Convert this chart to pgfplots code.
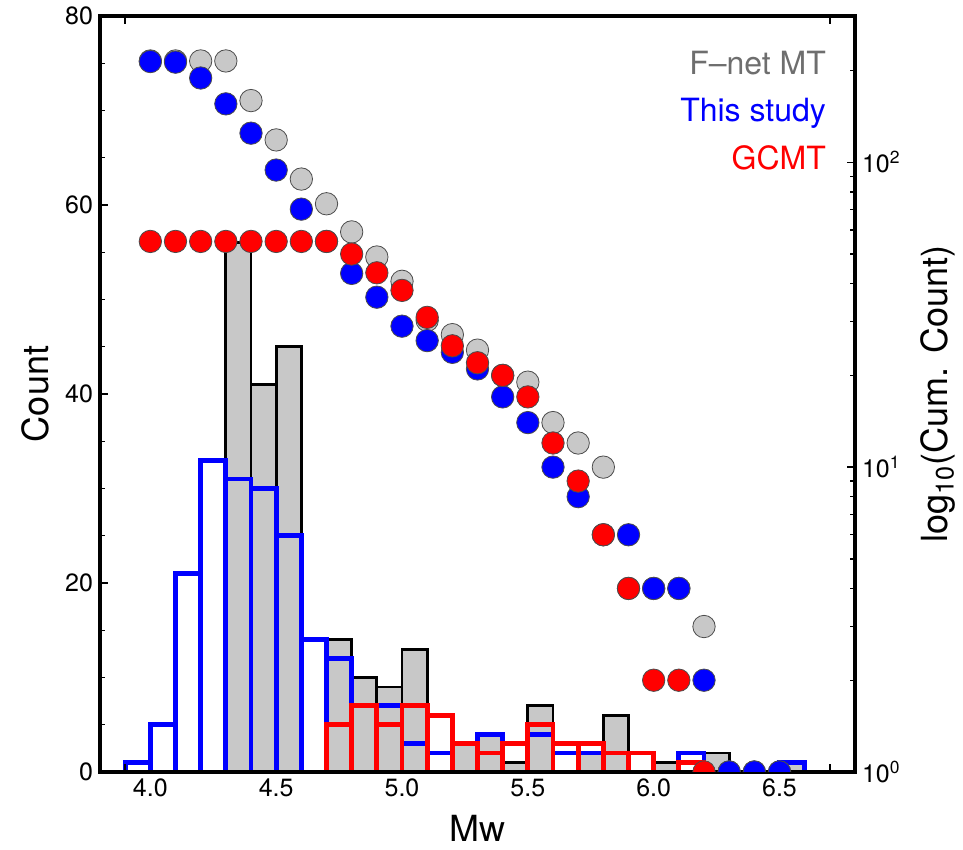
\documentclass[border=0pt]{standalone}
\usepackage{pgfplots}
\usepackage{pgfplotstable}
\pgfplotsset{compat=1.18}
\usepackage{fontspec}
\setmainfont{TeX Gyre Heros}

\definecolor{bargray}{RGB}{200,200,200}
\definecolor{labgray}{RGB}{110,110,110}

% histograms: bin centre, count
\pgfplotstableread{
mw n
4.35 56
4.45 41
4.55 45
4.75 14
4.85 10
4.95 9
5.05 13
5.25 3
5.35 4
5.45 1
5.55 7
5.75 2
5.85 6
6.05 1
6.25 2
6.55 1
}\grayhist
\pgfplotstableread{
mw n
3.95 1
4.05 5
4.15 21
4.25 33
4.35 31
4.45 30
4.55 25
4.65 14
4.75 12
4.85 7
4.95 7
5.05 3
5.15 2
5.25 3
5.35 4
5.45 3
5.55 4
5.65 2
5.75 2
5.85 2
5.95 2
6.15 2
6.55 1
}\bluehist
\pgfplotstableread{
mw n
4.75 5
4.85 7
4.95 5
5.05 7
5.15 6
5.25 3
5.35 2
5.45 3
5.55 5
5.65 3
5.75 3
5.85 2
5.95 2
6.15 1
}\redhist

% cumulative counts
\pgfplotstableread{
mw n
4.0 215
4.1 215
4.2 215
4.3 215
4.4 159.4
4.5 118.4
4.6 88.1
4.7 73.1
4.8 59.1
4.9 48.9
5.0 40.7
5.1 30.3
5.2 27.2
5.3 24.2
5.4 20
5.5 19
5.6 14
5.7 12
5.8 10
5.9 4
6.0 4
6.1 4
6.2 3
6.3 1
6.4 1
6.5 1
}\graycum
\pgfplotstableread{
mw n
4.0 214
4.1 213
4.2 189
4.3 155.5
4.4 124.6
4.5 94.3
4.6 70.2
4.7 55
4.8 43.2
4.9 36.1
5.0 29
5.1 26
5.2 23.8
5.3 21
5.4 17
5.5 14
5.6 10
5.7 8
5.8 6
5.9 6
6.0 4
6.1 4
6.2 2
6.3 1
6.4 1
6.5 1
}\bluecum
\pgfplotstableread{
mw n
4.0 55
4.1 55
4.2 55
4.3 55
4.4 55
4.5 55
4.6 55
4.7 55
4.8 50
4.9 43.4
5.0 38
5.1 31
5.2 25
5.3 22
5.4 20
5.5 17
5.6 12
5.7 9
5.8 6
5.9 4
6.0 2
6.1 2
6.2 1
}\redcum

\begin{document}
\begin{tikzpicture}
\pgfplotsset{
  every axis/.append style={
    scale only axis, width=377.5pt, height=378pt,
    xmin=3.8, xmax=6.8,
    tick align=inside,
    major tick length=4pt, minor tick length=2.5pt,
    axis line style={line width=1.8pt},
    every tick/.style={black, line width=0.7pt},
    tick label style={font=\fontsize{12.5}{14}\selectfont},
    /pgf/number format/assume math mode=true,
    axis on top,
  },
}
\begin{axis}[
  name=main,
  ymin=0, ymax=80,
  ytick={0,20,40,60,80}, minor y tick num=3, ytick pos=left,
  xtick={3.9,6.7}, xticklabels={},
  extra x ticks={4.0,4.5,5.0,5.5,6.0,6.5},
  extra x tick labels={4.0,4.5,5.0,5.5,6.0,6.5},
  extra x tick style={major tick length=0pt},
  xlabel={Mw}, ylabel={Count},
  every axis x label/.style={at={(axis description cs:0.5,-0.074)}, anchor=center, font=\fontsize{18}{21}\selectfont},
  every axis y label/.style={at={(axis description cs:-0.086,0.5)}, rotate=90, anchor=center, font=\fontsize{18}{21}\selectfont},
]
\addplot[ybar, bar shift=0pt, bar width=0.1, fill=bargray, draw=black, line width=1.4pt] table {\grayhist};
\addplot[ybar, bar shift=0pt, bar width=0.1, fill=none, draw=blue, line width=2.4pt] table {\bluehist};
\addplot[ybar, bar shift=0pt, bar width=0.1, fill=none, draw=red, line width=2.4pt] table {\redhist};
\end{axis}

\begin{axis}[
  ymode=log, ymin=1, ymax=302,
  axis y line*=right, axis x line=none,
  ytick={1,10,100},
  yticklabels={10\textsuperscript{0},10\textsuperscript{1},10\textsuperscript{2}},
  minor ytick={2,3,4,5,6,7,8,9,20,30,40,50,60,70,80,90,200,300},
  clip marker paths=true,
  ylabel={log\textsubscript{10}(Cum. Count)},
  every axis y label/.style={at={(axis description cs:1.110,0.5)}, rotate=90, anchor=center, font=\fontsize{18}{21}\selectfont},
]
\addplot[only marks, mark=*, mark size=5.6pt, mark options={fill=bargray, draw=black!70, line width=0.4pt}] table {\graycum};
\addplot[only marks, mark=*, mark size=5.6pt, mark options={fill=blue, draw=black!70, line width=0.4pt}] table {\bluecum};
\addplot[only marks, mark=*, mark size=5.6pt, mark options={fill=red, draw=black!70, line width=0.4pt}] table {\redcum};
\node[anchor=base east, inner sep=0pt, text=labgray, font=\fontsize{16}{19}\selectfont] at (rel axis cs:0.962,0.922) {F--net MT};
\node[anchor=base east, inner sep=0pt, text=blue, font=\fontsize{16}{19}\selectfont] at (rel axis cs:0.962,0.860) {This study};
\node[anchor=base east, inner sep=0pt, text=red, font=\fontsize{16}{19}\selectfont] at (rel axis cs:0.962,0.797) {GCMT};
\end{axis}

\pgfresetboundingbox
\path ([shift={(-50pt,-39pt)}]main.south west) rectangle ([shift={(54pt,8pt)}]main.north east);
\end{tikzpicture}
\end{document}
